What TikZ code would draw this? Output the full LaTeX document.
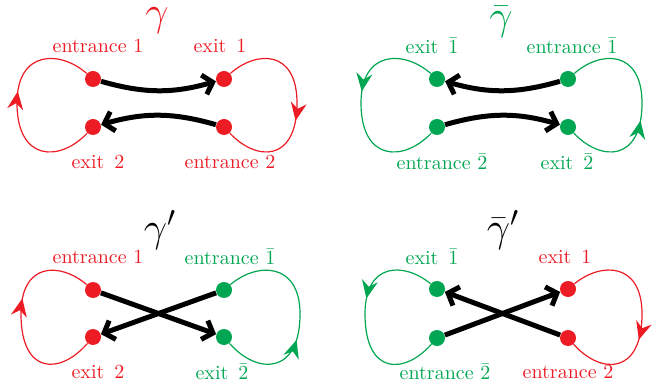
\documentclass[tikz,border=0pt]{standalone}
\usepackage{amsmath,amssymb}
\usepackage{xcolor}
\usepackage{tikz}
\usetikzlibrary{arrows.meta, positioning, decorations.markings}
\definecolor{loopred}{RGB}{237,28,36}
\definecolor{loopgreen}{RGB}{0,166,81}
\tikzset{
  rdot/.style={circle, fill=loopred, inner sep=0pt, minimum size=8pt},
  gdot/.style={circle, fill=loopgreen, inner sep=0pt, minimum size=8pt},
  lbl/.style={font=\normalsize, inner sep=1pt},
  ttl/.style={font=\huge, inner sep=0pt},
  rloop/.style={loopred, line width=0.6pt},
  gloop/.style={loopgreen, line width=0.6pt},
  flow/.style={postaction={decorate}, decoration={markings,
    mark=at position #1 with {\arrow{Stealth[length=9pt,width=8pt,inset=3pt]}}}},
  arrow/.style={-{Straight Barb[length=4.5pt,width=10pt]}, line width=2.5pt, black}
}

\begin{document}
\begin{tikzpicture}[x=0.5pt, y=0.5pt]
  \useasboundingbox (0,0) rectangle (672,390);
  % gamma
  \node[ttl, text=loopred] (t1) at (157,369) {$\gamma$};
  \node[rdot] (a1) at (93,311) {};
  \node[rdot] (b1) at (224,311) {};
  \node[rdot] (c1) at (93,263) {};
  \node[rdot] (d1) at (224,263) {};
  \node[lbl, text=loopred] (la1) at (98,344) {entrance 1};
  \node[lbl, text=loopred] (lb1) at (220,344) {exit~\,1};
  \node[lbl, text=loopred] (lc1) at (98,228) {exit~\,2};
  \node[lbl, text=loopred] (ld1) at (230,228) {entrance 2};
  \draw[rloop, flow=0.57] (c1) .. controls (60,228) and (17,228) .. (17,287)
    .. controls (17,340) and (60,340) .. (a1);
  \draw[rloop, flow=0.57] (b1) .. controls (257,340) and (297,340) .. (297,287)
    .. controls (297,228) and (257,228) .. (d1);
  \draw[arrow] (a1) to[bend right=16] (b1);
  \draw[arrow] (d1) to[bend right=16] (c1);

  % gamma bar
  \node[ttl, text=loopgreen] (t2) at (501,368) {$\bar{\gamma}$};
  \node[gdot] (a2) at (437,311) {};
  \node[gdot] (b2) at (568,311) {};
  \node[gdot] (c2) at (437,263) {};
  \node[gdot] (d2) at (568,263) {};
  \node[lbl, text=loopgreen] (la2) at (432,344) {exit~\,$\bar{1}$};
  \node[lbl, text=loopgreen] (lb2) at (572,344) {entrance $\bar{1}$};
  \node[lbl, text=loopgreen] (lc2) at (442,228) {entrance $\bar{2}$};
  \node[lbl, text=loopgreen] (ld2) at (567,228) {exit~\,$\bar{2}$};
  \draw[gloop, flow=0.43] (a2) .. controls (404,340) and (361,340) .. (361,287)
    .. controls (361,228) and (404,228) .. (c2);
  \draw[gloop, flow=0.43] (d2) .. controls (601,228) and (642,228) .. (642,287)
    .. controls (642,340) and (601,340) .. (b2);
  \draw[arrow] (b2) to[bend left=16] (a2);
  \draw[arrow] (c2) to[bend left=16] (d2);

  % gamma prime
  \node[ttl] (t3) at (160,160) {$\gamma'$};
  \node[rdot] (a3) at (93,100) {};
  \node[gdot] (b3) at (224,100) {};
  \node[rdot] (c3) at (93,53) {};
  \node[gdot] (d3) at (224,53) {};
  \node[lbl, text=loopred] (la3) at (98,133) {entrance 1};
  \node[lbl, text=loopgreen] (lb3) at (230,133) {entrance $\bar{1}$};
  \node[lbl, text=loopred] (lc3) at (98,18) {exit~\,2};
  \node[lbl, text=loopgreen] (ld3) at (222,18) {exit~\,$\bar{2}$};
  \draw[rloop, flow=0.6] (c3) .. controls (60,15) and (21,15) .. (21,76)
    .. controls (21,128) and (60,128) .. (a3);
  \draw[gloop, flow=0.4] (d3) .. controls (257,15) and (300,15) .. (300,76)
    .. controls (300,128) and (257,128) .. (b3);
  \draw[arrow] (a3) -- (d3);
  \draw[arrow] (b3) -- (c3);

  % gamma bar prime
  \node[ttl] (t4) at (503,160) {$\bar{\gamma}'$};
  \node[gdot] (a4) at (437,101) {};
  \node[rdot] (b4) at (568,101) {};
  \node[gdot] (c4) at (437,52) {};
  \node[rdot] (d4) at (568,52) {};
  \node[lbl, text=loopgreen] (la4) at (432,133) {exit~\,$\bar{1}$};
  \node[lbl, text=loopred] (lb4) at (565,133) {exit~\,1};
  \node[lbl, text=loopgreen] (lc4) at (445,18) {entrance $\bar{2}$};
  \node[lbl, text=loopred] (ld4) at (568,18) {entrance 2};
  \draw[gloop, flow=0.4] (a4) .. controls (404,128) and (365,128) .. (365,76)
    .. controls (365,15) and (404,15) .. (c4);
  \draw[rloop, flow=0.6] (b4) .. controls (601,128) and (642,128) .. (642,76)
    .. controls (642,15) and (601,15) .. (d4);
  \draw[arrow] (d4) -- (a4);
  \draw[arrow] (c4) -- (b4);
\end{tikzpicture}
\end{document}
